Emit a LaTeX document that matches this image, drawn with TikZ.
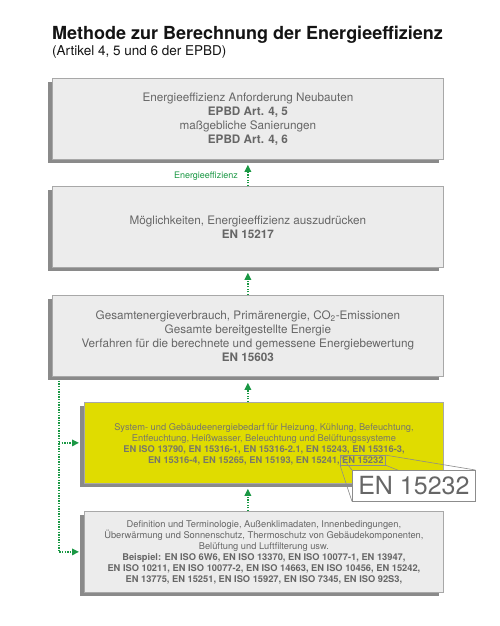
\documentclass[tikz,border=0pt]{standalone}
\usepackage{fontspec}
\setmainfont{TeX Gyre Heros}
\usetikzlibrary{arrows.meta,shadows,calc}
\definecolor{boxfill}{HTML}{ECECEC}
\definecolor{boxline}{HTML}{A8A8A8}
\definecolor{shade}{HTML}{8A8A8A}
\definecolor{txt}{HTML}{666666}
\definecolor{ytxt}{HTML}{77776A}
\definecolor{yel}{RGB}{224,220,0}
\definecolor{grn}{RGB}{26,152,68}
\definecolor{cgray}{HTML}{8C8C8C}
\begin{document}
\begin{tikzpicture}[x=1pt,y=-1pt,
  box/.style={draw=boxline, line width=0.8pt, fill=boxfill,
    drop shadow={shadow xshift=-4pt, shadow yshift=-4pt, fill=shade, opacity=1},
    inner sep=0pt, anchor=north west, minimum width=391pt, minimum height=81pt,
    align=center, text=txt, font=\fontsize{11.7}{14}\selectfont},
  sbox/.style={box, minimum width=359pt, font=\fontsize{9.3}{11}\selectfont},
  ytext/.style={inner sep=0pt, text=ytxt, font=\fontsize{9.3}{11}\selectfont},
  hlbox/.style={draw=cgray, line width=0.6pt, inner xsep=1.8pt, inner ysep=1.3pt,
    text=ytxt, font=\fontsize{9.3}{11}\selectfont},
  cline/.style={draw=cgray, line width=0.6pt},
  callout/.style={draw=cgray, line width=0.8pt, fill=white, inner sep=0pt,
    minimum width=123pt, minimum height=31pt, anchor=north west,
    text=txt, font=\fontsize{25}{27}\selectfont},
  garrow/.style={draw=grn, line width=1.6pt, dash pattern=on 1.3pt off 1.3pt,
    -{Triangle[width=6.5pt,length=7pt]}, shorten >=5pt},
  gline/.style={draw=grn, line width=1.6pt, dash pattern=on 1.3pt off 1.3pt}
]
\useasboundingbox (0,0) rectangle (500,626);
\fill[white] (0,0) rectangle (500,626);

% title
\node[anchor=base west, inner sep=0pt, text=black!92,
  font=\fontsize{18}{20}\selectfont\bfseries] (title) at (52,39.3)
  {Methode zur Berechnung der Energieeffizienz};
\node[anchor=base west, inner sep=0pt, text=black!92,
  font=\fontsize{13.5}{15}\selectfont] (sub) at (52,55.5)
  {(Artikel 4, 5 und 6 der EPBD)};

% boxes
\node[box] (box1) at (52,78) {Energieeffizienz Anforderung Neubauten\\
  \textbf{EPBD Art. 4, 5}\\ maßgebliche Sanierungen\\ \textbf{EPBD Art. 4, 6}};
\node[box] (box2) at (52,186) {Möglichkeiten, Energieeffizienz auszudrücken\\
  \textbf{EN 15217}};
\node[box] (box3) at (52,295) {Gesamtenergieverbrauch, Primärenergie, CO\textsubscript{2}-Emissionen\\
  Gesamte bereitgestellte Energie\\
  Verfahren für die berechnete und gemessene Energiebewertung\\
  \textbf{EN 15603}};
\node[sbox, fill=yel] (box4) at (84,402) {};
\node[sbox] (box5) at (84,511) {Definition und Terminologie, Außenklimadaten, Innenbedingungen,\\
  Überwärmung und Sonnenschutz, Thermoschutz von Gebäudekomponenten,\\
  Belüftung und Luftfilterung usw.\\
  \textbf{Beispiel: EN ISO 6W6, EN ISO 13370, EN ISO 10077-1, EN 13947,}\\
  \textbf{EN ISO 10211, EN ISO 10077-2, EN ISO 14663, EN ISO 10456, EN 15242,}\\
  \textbf{EN 13775, EN 15251, EN ISO 15927, EN ISO 7345, EN ISO 92S3,}};

% yellow box text
\node[ytext, anchor=base] (t4a) at (264,430.5)
  {System- und Gebäudeenergiebedarf für Heizung, Kühlung, Befeuchtung,};
\node[ytext, anchor=base] (t4b) at (264,441.5)
  {Entfeuchtung, Heißwasser, Beleuchtung und Belüftungssysteme};
\node[ytext, anchor=base] (t4c) at (264,452.5)
  {\textbf{EN ISO 13790, EN 15316-1, EN 15316-2.1, EN 15243, EN 15316-3,}};
\node[hlbox, anchor=base west] (hl) at (340,463.5) {\textbf{EN 15232}};
\node[ytext, anchor=base east] (t4d) at (hl.base west)
  {\textbf{EN 15316-4, EN 15265, EN 15193, EN 15241,}\ };

% callout
\node[inner sep=0pt, minimum width=123pt, minimum height=31pt, anchor=north west]
  (bigpos) at (352,470) {};
\draw[cline] (hl.north west) -- (bigpos.north west);
\draw[cline] (hl.south west) -- (bigpos.south west);
\draw[cline] (hl.north east) -- (bigpos.north east);
\draw[cline] (hl.south east) -- (bigpos.south east);
\node[callout] (big) at (352,470) {EN 15232};

% arrows
\draw[garrow] (box2.north) -- (box1.south);
\draw[garrow] (box3.north) -- (box2.south);
\draw[garrow, shorten >=6pt] (box4.north -| box3.south) -- (box3.south);
\draw[garrow] (box5.north -| box3.south) -- (box3.south |- box4.south);
\node[anchor=east, inner sep=0pt, text=grn, font=\fontsize{9}{10}\selectfont]
  (lbl) at (238,176) {Energieeffizienz};

\coordinate (lsrc) at ([xshift=7pt,yshift=-4pt]box3.south west);
\draw[garrow] (lsrc) |- (box5.west);
\draw[garrow] (lsrc |- box4.west) -- (box4.west);
\end{tikzpicture}
\end{document}
